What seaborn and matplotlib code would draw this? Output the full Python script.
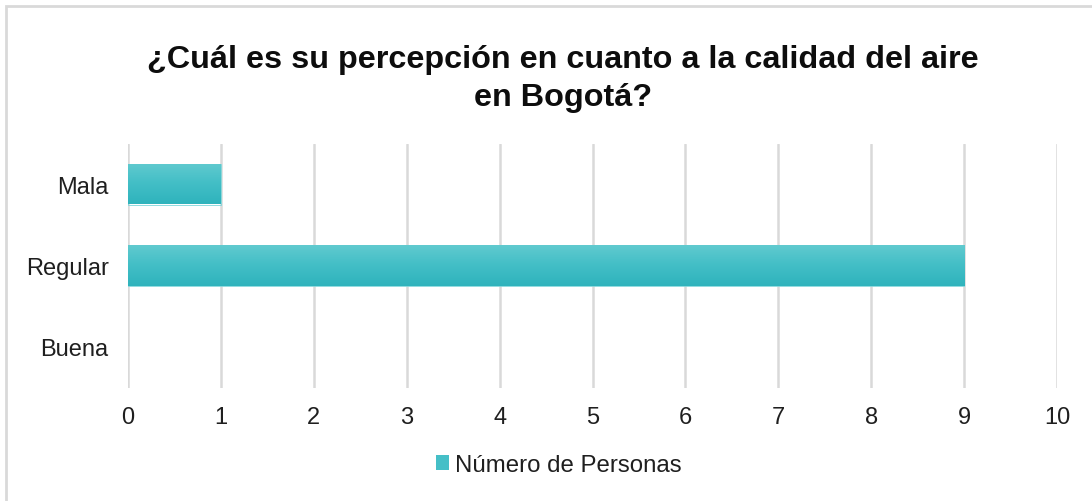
import numpy as np
import pandas as pd
import matplotlib
matplotlib.use("Agg")
import matplotlib.pyplot as plt
from matplotlib.patches import Patch, Rectangle
from matplotlib.colors import LinearSegmentedColormap
import seaborn as sns

categories = ["Mala", "Regular", "Buena"]
values = [1, 9, 0]
xticks = list(range(0, 11))
title = "¿Cuál es su percepción en cuanto a la calidad del aire\nen Bogotá?"
series_name = "Número de Personas"

sns.set_theme(style="white")
plt.rcParams['font.family'] = ['Liberation Sans', 'DejaVu Sans']

W, H = 1092, 502
fig = plt.figure(figsize=(W / 100, H / 100), dpi=100)
ax = fig.add_axes([128 / W, 1 - 388.5 / H, (1057 - 128) / W, (388.5 - 144.5) / H])

df = pd.DataFrame({"cat": categories, "val": values})
sns.barplot(data=df, x="val", y="cat", orient="h", width=0.5, color="#45BFC7",
            ax=ax, zorder=3)

ax.set_xlim(0, 10)
ylim = ax.get_ylim()
ax.set_xticks(xticks)
ax.set_xticklabels([str(t) for t in xticks], fontsize=17, color="#1F1F1F")
ax.tick_params(axis="y", labelsize=17, colors="#1F1F1F", pad=14, length=0)
ax.tick_params(axis="x", pad=13, length=0)
ax.set_xlabel("")
ax.set_ylabel("")
ax.grid(axis="x", color="#D9D9D9", linewidth=1.8, zorder=0)
ax.grid(axis="y", visible=False)
for s in ax.spines.values():
    s.set_visible(False)

# gradient fill on bars
cmap = LinearSegmentedColormap.from_list("g", ["#60CACF", "#42BEC6", "#2FB3BC"])
grad = np.linspace(0, 1, 100).reshape(-1, 1)
for p in list(ax.patches):
    w = p.get_width()
    if w <= 0:
        p.set_visible(False)
        continue
    x0, y0, h = p.get_x(), p.get_y(), p.get_height()
    im = ax.imshow(grad, cmap=cmap, aspect="auto", origin="upper",
                   extent=(x0, x0 + w, y0 + h, y0), zorder=3, interpolation="bicubic")
    im.set_clip_path(p)
    p.set_facecolor("none")
    p.set_edgecolor("#7FD6DA")
    p.set_linewidth(0.6)
ax.set_xlim(0, 10)
ax.set_ylim(ylim)

fig.text(563 / W, 1 - 79 / H, title, ha="center", va="center", fontsize=23.3,
         fontweight="bold", color="#0D0D0D", linespacing=1.33)

handle = Patch(facecolor="#45BFC7", edgecolor="none")
fig.legend(handles=[handle], labels=[series_name], loc="center",
           bbox_to_anchor=(559 / W, 1 - 466 / H), frameon=False, fontsize=17.3,
           handlelength=0.55, handleheight=0.55, handletextpad=0.25,
           labelcolor="#1F1F1F")

fig.patches.append(Rectangle((6 / W, -0.5), 2.0, 1.5 - 6.5 / H, transform=fig.transFigure,
                             fill=False, edgecolor="#D9D9D9", linewidth=2.0, zorder=0))

fig.savefig("out.png", dpi=100, facecolor="white")
